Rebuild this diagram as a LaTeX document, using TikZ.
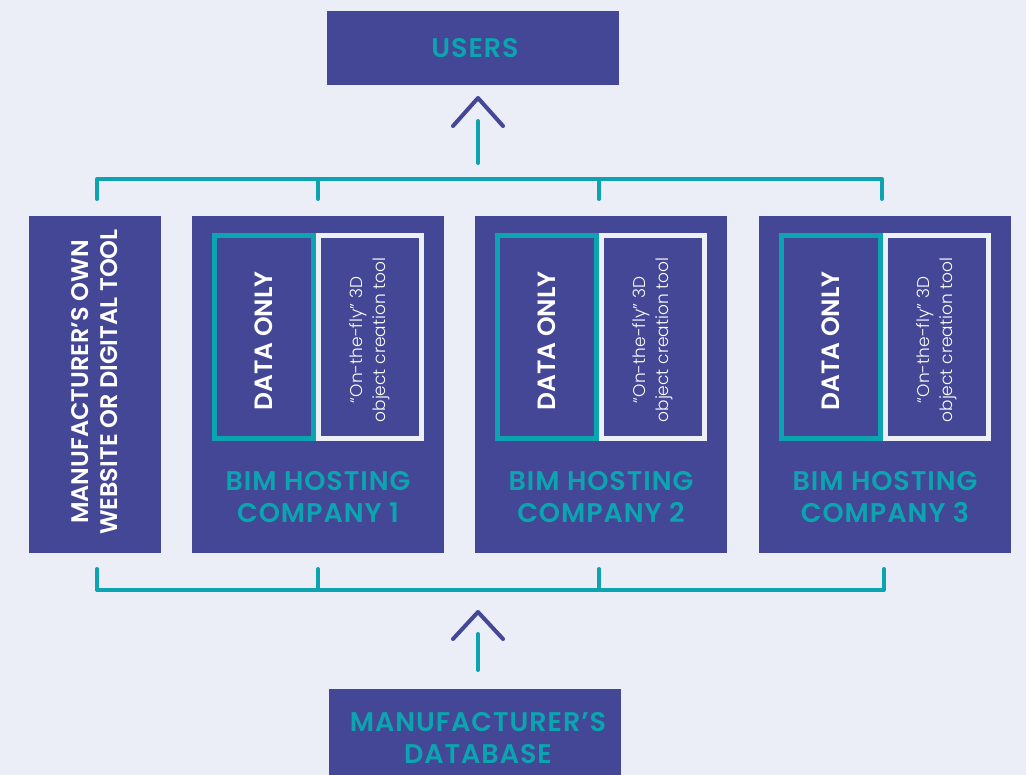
\documentclass[tikz,border=0pt]{standalone}
\usepackage{fontspec}
\setmainfont{Poppins}[UprightFont=* SemiBold]
\newfontfamily\titlefont{Poppins}[UprightFont=* SemiBold, LetterSpace=3.5]
\newfontfamily\lightfont{Poppins}[UprightFont=* Light]
\definecolor{bg}{HTML}{EBEEF6}
\definecolor{dblue}{HTML}{434796}
\definecolor{tealc}{HTML}{0CA4B0}
\definecolor{wframe}{HTML}{EEF0F7}
\begin{document}
\begin{tikzpicture}[x=1pt,y=-1pt,
  bluebox/.style={fill=dblue, draw=none, inner sep=0pt},
  conn/.style={draw=tealc, line width=4pt, line cap=round, line join=round},
  chev/.style={draw=dblue, line width=4pt, line cap=round, line join=round},
  title/.style={text=tealc, align=center, font={\titlefont\fontsize{27}{32}\selectfont}},
  datab/.style={draw=tealc, line width=5pt, minimum width=99pt, minimum height=203pt, inner sep=0pt},
  flyb/.style={draw=wframe, line width=5pt, minimum width=103pt, minimum height=203pt, inner sep=0pt},
  vtext/.style={text=white, rotate=90, align=center, inner sep=0pt}
]
\useasboundingbox[fill=bg] (0,0) rectangle (1026,775);

% top box
\node[bluebox, minimum width=292pt, minimum height=74pt] (users) at (473,48) {};
\node[title] (userst) at (475,48) {USERS};

% bottom box
\node[bluebox, minimum width=292pt, minimum height=92pt] (db) at (475,735) {};
\node[title] (dbt) at (478,738) {MANUFACTURER’S\\DATABASE};

% left box
\node[bluebox, minimum width=132pt, minimum height=337pt] (own) at (95,384.5) {};
\node[vtext, font={\fontsize{24}{29}\selectfont}] (ownt) at (95,382) {MANUFACTURER’S OWN\\WEBSITE OR DIGITAL TOOL};

% companies
\foreach \cx/\n in {318/1, 601/2, 885/3}{
  \node[bluebox, minimum width=252pt, minimum height=337pt] (c\n) at (\cx,384.5) {};
  \node[flyb] (fly\n) at (\cx+52,337) {};
  \node[datab] (data\n) at (\cx-54,337) {};
  \node[vtext, font={\fontsize{25}{30}\selectfont}] (datat\n) at (\cx-54,341) {DATA ONLY};
  \node[vtext, font={\lightfont\fontsize{17}{23}\selectfont}] (flyt\n) at (\cx+52,340) {“On-the-fly” 3D\\object creation tool};
  \node[title] (ct\n) at (\cx,497) {BIM HOSTING\\COMPANY \n};
}

% top bracket
\coordinate (tl) at (97,199);
\coordinate (tr) at (882,199);
\coordinate (tlc) at (97,179);
\coordinate (trc) at (882,179);
\coordinate (t1) at (318,199);
\coordinate (t1c) at (318,179);
\coordinate (t2) at (599,199);
\coordinate (t2c) at (599,179);
\draw[conn] (tl) -- (tlc) -- (trc) -- (tr);
\draw[conn] (t1c) -- (t1);
\draw[conn] (t2c) -- (t2);
\coordinate (ua) at (478,163);
\coordinate (ub) at (478,121);
\draw[conn] (ua) -- (ub);
\coordinate (uc1) at (453,126);
\coordinate (uc2) at (478,98);
\coordinate (uc3) at (503,126);
\draw[chev] (uc1) -- (uc2) -- (uc3);

% bottom bracket
\coordinate (bl) at (97,569);
\coordinate (br) at (884,569);
\coordinate (blc) at (97,590);
\coordinate (brc) at (884,590);
\coordinate (b1) at (318,569);
\coordinate (b1c) at (318,590);
\coordinate (b2) at (599,569);
\coordinate (b2c) at (599,590);
\draw[conn] (bl) -- (blc) -- (brc) -- (br);
\draw[conn] (b1c) -- (b1);
\draw[conn] (b2c) -- (b2);
\coordinate (da) at (478,670);
\coordinate (dbb) at (478,634);
\draw[conn] (da) -- (dbb);
\coordinate (dc1) at (453,639);
\coordinate (dc2) at (478,612);
\coordinate (dc3) at (503,639);
\draw[chev] (dc1) -- (dc2) -- (dc3);
\end{tikzpicture}
\end{document}
